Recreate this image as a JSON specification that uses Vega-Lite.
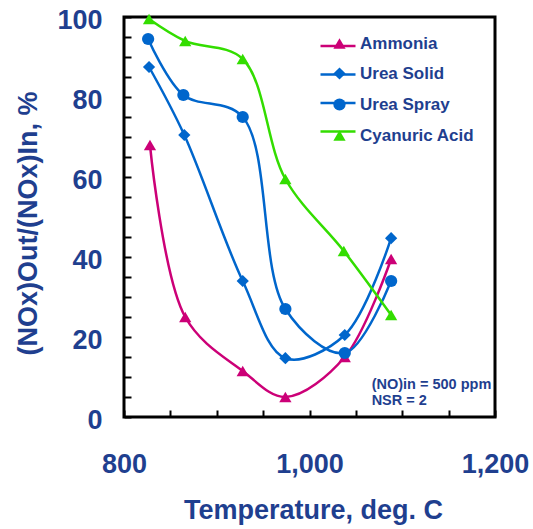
{
  "$schema": "https://vega.github.io/schema/vega-lite/v6.json",
  "width": 371,
  "height": 400,
  "autosize": {"type": "none"},
  "padding": {"left": 124, "top": 17, "right": 38, "bottom": 112},
  "background": "white",
  "config": {
    "view": {"stroke": "black", "strokeWidth": 3},
    "font": "Liberation Sans",
    "axis": {
      "grid": false,
      "domain": false,
      "labelFlush": false,
      "tickColor": "black",
      "tickWidth": 2,
      "tickSize": -7,
      "labelFont": "Liberation Sans",
      "labelFontWeight": "bold",
      "labelFontSize": 27,
      "labelColor": "#1F3F8F",
      "titleFont": "Liberation Sans",
      "titleFontWeight": "bold",
      "titleFontSize": 27,
      "titleColor": "#1F3F8F"
    },
    "legend": {
      "padding": 0,
      "labelFont": "Liberation Sans",
      "labelFontWeight": "bold",
      "labelFontSize": 17,
      "labelColor": "#1F3F8F"
    }
  },
  "datasets": {
    "series": [
      {"series": "Ammonia", "temp": 828, "value": 68},
      {"series": "Ammonia", "temp": 866, "value": 25},
      {"series": "Ammonia", "temp": 928, "value": 11.5},
      {"series": "Ammonia", "temp": 974, "value": 5},
      {"series": "Ammonia", "temp": 1038, "value": 15},
      {"series": "Ammonia", "temp": 1088, "value": 39.5},
      {"series": "Urea Solid", "temp": 827, "value": 87.5},
      {"series": "Urea Solid", "temp": 865, "value": 70.5},
      {"series": "Urea Solid", "temp": 928, "value": 34},
      {"series": "Urea Solid", "temp": 974, "value": 14.7},
      {"series": "Urea Solid", "temp": 1038, "value": 20.5},
      {"series": "Urea Solid", "temp": 1088, "value": 44.7},
      {"series": "Urea Spray", "temp": 826, "value": 94.5},
      {"series": "Urea Spray", "temp": 864, "value": 80.5},
      {"series": "Urea Spray", "temp": 928, "value": 75},
      {"series": "Urea Spray", "temp": 974, "value": 27},
      {"series": "Urea Spray", "temp": 1038, "value": 16},
      {"series": "Urea Spray", "temp": 1088, "value": 34},
      {"series": "Cyanuric Acid", "temp": 827, "value": 99.5},
      {"series": "Cyanuric Acid", "temp": 866, "value": 94},
      {"series": "Cyanuric Acid", "temp": 928, "value": 89.5},
      {"series": "Cyanuric Acid", "temp": 974, "value": 59.5},
      {"series": "Cyanuric Acid", "temp": 1037, "value": 41.5},
      {"series": "Cyanuric Acid", "temp": 1088, "value": 25.5}
    ],
    "notes": [
      {"temp": 1067, "value": 7, "text": "(NO)in = 500 ppm"},
      {"temp": 1067, "value": 3, "text": "NSR = 2"}
    ]
  },
  "encoding": {
    "x": {
      "field": "temp",
      "type": "quantitative",
      "scale": {"domain": [800, 1200], "nice": false},
      "axis": {
        "title": "Temperature, deg. C",
        "values": [800, 850, 900, 950, 1000, 1050, 1100, 1150, 1200],
        "labelExpr": "datum.value % 200 === 0 ? format(datum.value, ',') : ''",
        "labelPadding": 41,
        "titleX": 189,
        "titleY": 93,
        "titleBaseline": "middle"
      }
    },
    "y": {
      "field": "value",
      "type": "quantitative",
      "scale": {"domain": [0, 100], "nice": false},
      "axis": {
        "title": "(NOx)Out/(NOx)In, %",
        "values": [0, 5, 10, 15, 20, 25, 30, 35, 40, 45, 50, 55, 60, 65, 70, 75, 80, 85, 90, 95, 100],
        "labelExpr": "datum.value % 20 === 0 ? datum.label : ''",
        "labelPadding": 29,
        "labelOffset": 3,
        "titleX": -96,
        "titleY": 206,
        "titleBaseline": "middle"
      }
    }
  },
  "layer": [
    {
      "data": {"name": "series"},
      "mark": {"type": "line", "interpolate": "catmull-rom", "strokeWidth": 2.5},
      "encoding": {
        "color": {
          "field": "series",
          "type": "nominal",
          "scale": {
            "domain": ["Ammonia", "Urea Solid", "Urea Spray", "Cyanuric Acid"],
            "range": ["#CC0077", "#0066CC", "#0066CC", "#33DD00"]
          },
          "legend": {
            "title": null,
            "orient": "none",
            "legendX": 195,
            "legendY": 10,
            "symbolType": "stroke",
            "symbolSize": 1225,
            "symbolStrokeWidth": 2.5,
            "rowPadding": 1.5,
            "labelExpr": "''"
          }
        }
      }
    },
    {
      "data": {"name": "series"},
      "mark": {"type": "point", "filled": true, "size": 150, "opacity": 1},
      "encoding": {
        "color": {
          "field": "series",
          "type": "nominal",
          "scale": {
            "domain": ["Ammonia", "Urea Solid", "Urea Spray", "Cyanuric Acid"],
            "range": ["#CC0077", "#0066CC", "#0066CC", "#33DD00"]
          },
          "legend": {
            "title": null,
            "orient": "none",
            "legendX": 207,
            "legendY": 18,
            "symbolSize": 150,
            "labelOffset": 12,
            "rowPadding": 12,
            "symbolOpacity": 1
          }
        },
        "shape": {
          "field": "series",
          "type": "nominal",
          "scale": {
            "domain": ["Ammonia", "Urea Solid", "Urea Spray", "Cyanuric Acid"],
            "range": ["triangle-up", "diamond", "circle", "triangle-up"]
          },
          "legend": {
            "title": null,
            "orient": "none",
            "legendX": 207,
            "legendY": 18,
            "symbolSize": 150,
            "labelOffset": 12,
            "rowPadding": 12
          }
        }
      }
    },
    {
      "data": {"name": "notes"},
      "mark": {
        "type": "text",
        "align": "left",
        "baseline": "alphabetic",
        "font": "Liberation Sans",
        "fontWeight": "bold",
        "fontSize": 14.5,
        "color": "#1F3F8F"
      },
      "encoding": {"text": {"field": "text"}}
    }
  ],
  "resolve": {"scale": {"color": "independent", "shape": "independent"}}
}
